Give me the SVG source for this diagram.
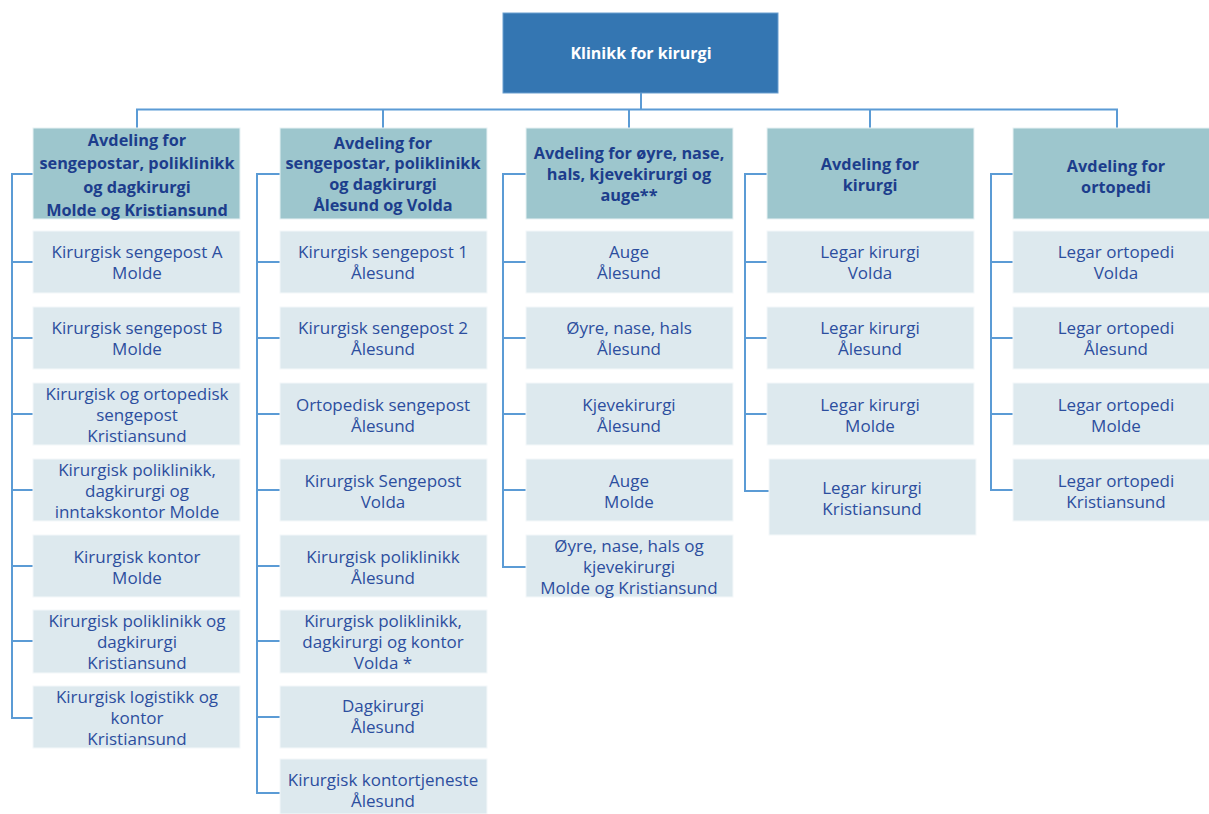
<svg xmlns="http://www.w3.org/2000/svg" width="1209" height="814" viewBox="0 0 1209 814">
<style>
.top{fill:#3476b2;stroke:#6a9fd0;stroke-width:1}
.hd{fill:#9dc6cd;stroke:#e8f2f4;stroke-width:1}
.ch{fill:#dde9ee;stroke:#f4f8fa;stroke-width:1}
.tt{font-family:"Open Sans","Liberation Sans",sans-serif;font-size:16px;font-weight:bold;fill:#ffffff;text-anchor:middle;dominant-baseline:central}
.ht{font-family:"Open Sans","Liberation Sans",sans-serif;font-size:16.3px;font-weight:bold;fill:#1c3d8c;text-anchor:middle;dominant-baseline:central}
.ct{font-family:"Open Sans","Liberation Sans",sans-serif;font-size:17px;fill:#2c4e9e;text-anchor:middle;dominant-baseline:central}
.ln{fill:none;stroke:#5b9bd5;stroke-width:2}
</style>
<g id="connectors">
<path class="ln" d="M641 93V109.5M137 128V109.5H1117V128M383 109.5V128M629 109.5V128M870 109.5V128"/>
<path class="ln" d="M33 174H12V718H35M12 262H35M12 338H35M12 414H35M12 490H35M12 566H35M12 641H35"/>
<path class="ln" d="M280 174H257V793H280M257 262H280M257 338H280M257 414H280M257 490H280M257 566H280M257 641H280M257 717H280"/>
<path class="ln" d="M526 174H503V567H526M503 262H526M503 338H526M503 414H526M503 490H526"/>
<path class="ln" d="M767 174H745V491H769M745 262H767M745 338H767M745 414H767"/>
<path class="ln" d="M1013 174H991V490H1013M991 262H1013M991 338H1013M991 414H1013"/>
</g>
<g id="root"><rect class="top" x="503" y="13" width="275" height="80"/><text class="tt" x="641" y="53">Klinikk for kirurgi</text></g>
<g id="h1"><rect class="hd" x="33" y="128" width="207" height="91"/><text class="ht"><tspan x="137" y="140">Avdeling for</tspan><tspan x="137" y="163">sengepostar, poliklinikk</tspan><tspan x="137" y="187">og dagkirurgi</tspan><tspan x="137" y="210">Molde og Kristiansund</tspan></text></g>
<g id="h2"><rect class="hd" x="280" y="128" width="207" height="91"/><text class="ht"><tspan x="383" y="143">Avdeling for</tspan><tspan x="383" y="163">sengepostar, poliklinikk</tspan><tspan x="383" y="184">og dagkirurgi</tspan><tspan x="383" y="205">Ålesund og Volda</tspan></text></g>
<g id="h3"><rect class="hd" x="526" y="128" width="207" height="91"/><text class="ht"><tspan x="629" y="153">Avdeling for øyre, nase,</tspan><tspan x="629" y="174">hals, kjevekirurgi og</tspan><tspan x="629" y="195">auge**</tspan></text></g>
<g id="h4"><rect class="hd" x="767" y="128" width="207" height="91"/><text class="ht"><tspan x="870" y="164">Avdeling for</tspan><tspan x="870" y="185">kirurgi</tspan></text></g>
<g id="h5"><rect class="hd" x="1013" y="128" width="207" height="91"/><text class="ht"><tspan x="1116" y="166">Avdeling for</tspan><tspan x="1116" y="187">ortopedi</tspan></text></g>

<g id="c1-1"><rect class="ch" x="33" y="231" width="207" height="62"/><text class="ct"><tspan x="137" y="251">Kirurgisk sengepost A</tspan><tspan x="137" y="272">Molde</tspan></text></g>
<g id="c1-2"><rect class="ch" x="33" y="307" width="207" height="62"/><text class="ct"><tspan x="137" y="327">Kirurgisk sengepost B</tspan><tspan x="137" y="348">Molde</tspan></text></g>
<g id="c1-3"><rect class="ch" x="33" y="383" width="207" height="62"/><text class="ct"><tspan x="137" y="393">Kirurgisk og ortopedisk</tspan><tspan x="137" y="414">sengepost</tspan><tspan x="137" y="435">Kristiansund</tspan></text></g>
<g id="c1-4"><rect class="ch" x="33" y="459" width="207" height="62"/><text class="ct"><tspan x="137" y="469">Kirurgisk poliklinikk,</tspan><tspan x="137" y="490">dagkirurgi og</tspan><tspan x="137" y="511">inntakskontor Molde</tspan></text></g>
<g id="c1-5"><rect class="ch" x="33" y="535" width="207" height="62"/><text class="ct"><tspan x="137" y="556">Kirurgisk kontor</tspan><tspan x="137" y="577">Molde</tspan></text></g>
<g id="c1-6"><rect class="ch" x="33" y="610" width="207" height="63"/><text class="ct"><tspan x="137" y="620">Kirurgisk poliklinikk og</tspan><tspan x="137" y="641">dagkirurgi</tspan><tspan x="137" y="662">Kristiansund</tspan></text></g>
<g id="c1-7"><rect class="ch" x="33" y="686" width="207" height="62"/><text class="ct"><tspan x="137" y="696">Kirurgisk logistikk og</tspan><tspan x="137" y="717">kontor</tspan><tspan x="137" y="738">Kristiansund</tspan></text></g>

<g id="c2-1"><rect class="ch" x="280" y="231" width="207" height="62"/><text class="ct"><tspan x="383" y="251">Kirurgisk sengepost 1</tspan><tspan x="383" y="272">Ålesund</tspan></text></g>
<g id="c2-2"><rect class="ch" x="280" y="307" width="207" height="62"/><text class="ct"><tspan x="383" y="327">Kirurgisk sengepost 2</tspan><tspan x="383" y="348">Ålesund</tspan></text></g>
<g id="c2-3"><rect class="ch" x="280" y="383" width="207" height="62"/><text class="ct"><tspan x="383" y="404">Ortopedisk sengepost</tspan><tspan x="383" y="425">Ålesund</tspan></text></g>
<g id="c2-4"><rect class="ch" x="280" y="459" width="207" height="62"/><text class="ct"><tspan x="383" y="480">Kirurgisk Sengepost</tspan><tspan x="383" y="501">Volda</tspan></text></g>
<g id="c2-5"><rect class="ch" x="280" y="535" width="207" height="62"/><text class="ct"><tspan x="383" y="556">Kirurgisk poliklinikk</tspan><tspan x="383" y="577">Ålesund</tspan></text></g>
<g id="c2-6"><rect class="ch" x="280" y="610" width="207" height="63"/><text class="ct"><tspan x="383" y="620">Kirurgisk poliklinikk,</tspan><tspan x="383" y="641">dagkirurgi og kontor</tspan><tspan x="383" y="662">Volda *</tspan></text></g>
<g id="c2-7"><rect class="ch" x="280" y="686" width="207" height="62"/><text class="ct"><tspan x="383" y="705">Dagkirurgi</tspan><tspan x="383" y="726">Ålesund</tspan></text></g>
<g id="c2-8"><rect class="ch" x="280" y="759" width="207" height="55"/><text class="ct"><tspan x="383" y="779">Kirurgisk kontortjeneste</tspan><tspan x="383" y="800">Ålesund</tspan></text></g>

<g id="c3-1"><rect class="ch" x="526" y="231" width="207" height="62"/><text class="ct"><tspan x="629" y="251">Auge</tspan><tspan x="629" y="272">Ålesund</tspan></text></g>
<g id="c3-2"><rect class="ch" x="526" y="307" width="207" height="62"/><text class="ct"><tspan x="629" y="327">Øyre, nase, hals</tspan><tspan x="629" y="348">Ålesund</tspan></text></g>
<g id="c3-3"><rect class="ch" x="526" y="383" width="207" height="62"/><text class="ct"><tspan x="629" y="404">Kjevekirurgi</tspan><tspan x="629" y="425">Ålesund</tspan></text></g>
<g id="c3-4"><rect class="ch" x="526" y="459" width="207" height="62"/><text class="ct"><tspan x="629" y="480">Auge</tspan><tspan x="629" y="501">Molde</tspan></text></g>
<g id="c3-5"><rect class="ch" x="526" y="535" width="207" height="62"/><text class="ct"><tspan x="629" y="545">Øyre, nase, hals og</tspan><tspan x="629" y="566">kjevekirurgi</tspan><tspan x="629" y="587">Molde og Kristiansund</tspan></text></g>

<g id="c4-1"><rect class="ch" x="767" y="231" width="207" height="62"/><text class="ct"><tspan x="870" y="251">Legar kirurgi</tspan><tspan x="870" y="272">Volda</tspan></text></g>
<g id="c4-2"><rect class="ch" x="767" y="307" width="207" height="62"/><text class="ct"><tspan x="870" y="327">Legar kirurgi</tspan><tspan x="870" y="348">Ålesund</tspan></text></g>
<g id="c4-3"><rect class="ch" x="767" y="383" width="207" height="62"/><text class="ct"><tspan x="870" y="404">Legar kirurgi</tspan><tspan x="870" y="425">Molde</tspan></text></g>
<g id="c4-4"><rect class="ch" x="769" y="459" width="207" height="76"/><text class="ct"><tspan x="872" y="487">Legar kirurgi</tspan><tspan x="872" y="508">Kristiansund</tspan></text></g>

<g id="c5-1"><rect class="ch" x="1013" y="231" width="207" height="62"/><text class="ct"><tspan x="1116" y="251">Legar ortopedi</tspan><tspan x="1116" y="272">Volda</tspan></text></g>
<g id="c5-2"><rect class="ch" x="1013" y="307" width="207" height="62"/><text class="ct"><tspan x="1116" y="327">Legar ortopedi</tspan><tspan x="1116" y="348">Ålesund</tspan></text></g>
<g id="c5-3"><rect class="ch" x="1013" y="383" width="207" height="62"/><text class="ct"><tspan x="1116" y="404">Legar ortopedi</tspan><tspan x="1116" y="425">Molde</tspan></text></g>
<g id="c5-4"><rect class="ch" x="1013" y="459" width="207" height="62"/><text class="ct"><tspan x="1116" y="480">Legar ortopedi</tspan><tspan x="1116" y="501">Kristiansund</tspan></text></g>
</svg>
